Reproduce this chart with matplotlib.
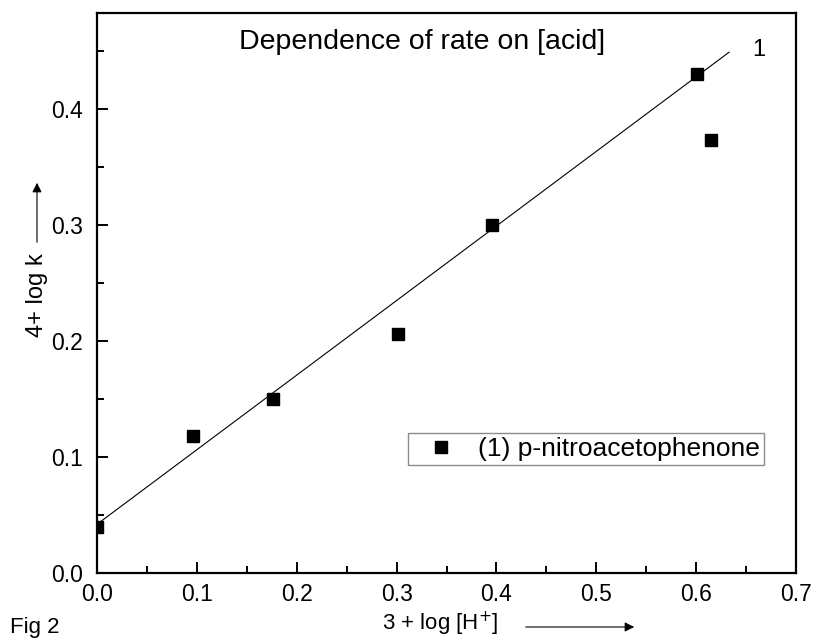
import matplotlib
matplotlib.use("Agg")
import matplotlib.pyplot as plt
from matplotlib.ticker import MultipleLocator, FormatStrFormatter
from matplotlib.patches import FancyArrowPatch

plt.rcParams['font.family'] = ['Liberation Sans', 'DejaVu Sans']

# Data
x_vals = [0.0, 0.096, 0.176, 0.301, 0.396, 0.601, 0.615]
y_vals = [0.040, 0.118, 0.150, 0.206, 0.300, 0.430, 0.373]
fit_x = [0.0, 0.633]
fit_y = [0.042, 0.449]
series_label = "(1) p-nitroacetophenone"
title_text = "Dependence of rate on [acid]"

fig = plt.figure(figsize=(8.14, 6.39), dpi=100)
ax = fig.add_axes([0.1192, 0.1033, 0.9779 - 0.1192, 0.9797 - 0.1033])

ax.plot(fit_x, fit_y, color='black', linewidth=0.8)
ax.plot(x_vals, y_vals, linestyle='none', marker='s', markersize=9,
        color='black', label=series_label)

ax.set_xlim(0, 0.7)
ax.set_ylim(0, 0.4828)
ax.xaxis.set_major_locator(MultipleLocator(0.1))
ax.xaxis.set_minor_locator(MultipleLocator(0.05))
ax.yaxis.set_major_locator(MultipleLocator(0.1))
ax.yaxis.set_minor_locator(MultipleLocator(0.05))
ax.xaxis.set_major_formatter(FormatStrFormatter('%.1f'))
ax.yaxis.set_major_formatter(FormatStrFormatter('%.1f'))
ax.tick_params(which='both', direction='in', top=False, right=False,
               labelsize=16.5, width=1.4)
ax.tick_params(which='major', length=8)
ax.tick_params(axis='x', which='major', pad=7)
ax.tick_params(axis='y', which='major', pad=10)
ax.tick_params(which='minor', length=5)
for s in ax.spines.values():
    s.set_linewidth(1.6)

ax.text(0.3255, 0.458, title_text, fontsize=20.5, ha='center', va='center')
ax.text(0.663, 0.451, "1", fontsize=17, ha='center', va='center')

leg = ax.legend(loc='upper left', bbox_to_anchor=(0.445, 0.25), fontsize=19,
                frameon=True, fancybox=False, edgecolor='#707070',
                handlelength=2.2, handletextpad=0.3, borderpad=0.15,
                borderaxespad=0, numpoints=1)
leg.get_frame().set_linewidth(1.0)

# axis labels with arrows
fig.text(382 / 814, 1 - 624 / 639, "3 + log [H$^{+}$]", fontsize=16,
         ha='left', va='center')
fig.add_artist(FancyArrowPatch(
    (523 / 814, 1 - 627 / 639), (637 / 814, 1 - 627 / 639),
    transform=fig.transFigure, arrowstyle='-|>', mutation_scale=14,
    color='black', linewidth=0.8))
fig.text(37 / 814, 1 - 295 / 639, "4+ log k", fontsize=17, rotation=90,
         ha='center', va='center')
fig.add_artist(FancyArrowPatch(
    (37 / 814, 1 - 245 / 639), (37 / 814, 1 - 180 / 639),
    transform=fig.transFigure, arrowstyle='-|>', mutation_scale=14,
    color='black', linewidth=0.8))
fig.text(10 / 814, 1 - 628 / 639, "Fig 2", fontsize=16, ha='left', va='center')

fig.savefig("out.png", dpi=100)
